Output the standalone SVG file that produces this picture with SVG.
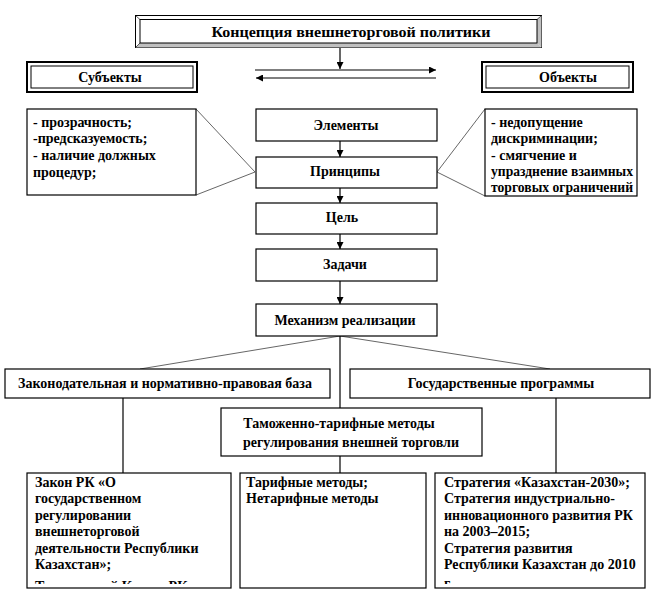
<svg xmlns="http://www.w3.org/2000/svg" width="655" height="600" viewBox="0 0 655 600">
<style>
text{font-family:"Liberation Serif","Times New Roman",serif;font-weight:bold;font-size:14px;fill:#000}
.c{text-anchor:middle}
.box{fill:#fff;stroke:#000;stroke-width:1.2}
.ln{stroke:#000;stroke-width:1.2;fill:none}
.thin{stroke:#555;stroke-width:0.9;fill:none}
</style>
<defs>
<marker id="ah" viewBox="0 0 10 10" refX="10" refY="5" markerWidth="7" markerHeight="7" markerUnits="userSpaceOnUse" orient="auto">
<path d="M0,0 L10,5 L0,10 z" fill="#000"/>
</marker>
<clipPath id="clipL"><rect x="27" y="473" width="204" height="111"/></clipPath>
<clipPath id="clipR"><rect x="435" y="473" width="210" height="111"/></clipPath>
</defs>
<rect width="655" height="600" fill="#fff"/>

<g id="concept">
<rect x="135.5" y="15.5" width="406" height="32" fill="#fff" stroke="#000"/>
<polygon points="135.5,47.5 541.5,47.5 537,43 140,43" fill="#c0c0c0"/>
<polygon points="541.5,15.5 541.5,47.5 537,43 537,19.5" fill="#c0c0c0"/>
<rect x="140" y="19.5" width="397" height="23.5" fill="none" stroke="#000"/>
<line x1="135.5" y1="15.5" x2="140" y2="19.5" stroke="#000" stroke-width="0.6"/>
<line x1="135.5" y1="47.5" x2="140" y2="43" stroke="#000" stroke-width="0.6"/>
<line x1="541.5" y1="15.5" x2="537" y2="19.5" stroke="#000" stroke-width="0.6"/>
<text x="351" y="37" class="c" textLength="279" lengthAdjust="spacingAndGlyphs">Концепция внешнеторговой политики</text>
</g>

<g id="subjects">
<rect x="27" y="62" width="170" height="30" fill="#fff" stroke="#000" stroke-width="2"/>
<rect x="31" y="66" width="162" height="22" fill="none" stroke="#000" stroke-width="1"/>
<text x="110" y="82" class="c">Субъекты</text>
</g>

<g id="objects">
<rect x="482" y="62" width="151" height="30" fill="#fff" stroke="#000" stroke-width="2"/>
<rect x="486" y="66" width="143" height="22" fill="none" stroke="#000" stroke-width="1"/>
<text x="568" y="82" class="c">Объекты</text>
</g>

<g id="connectors">
<line class="ln" x1="340" y1="48" x2="340" y2="69" marker-end="url(#ah)"/>
<line class="ln" x1="255" y1="70" x2="436" y2="70" marker-end="url(#ah)"/>
<line class="ln" x1="436" y1="78" x2="256" y2="78" marker-end="url(#ah)"/>
<line class="ln" x1="340" y1="141" x2="340" y2="157" marker-end="url(#ah)"/>
<line class="ln" x1="340" y1="188" x2="340" y2="203" marker-end="url(#ah)"/>
<line class="ln" x1="340" y1="234" x2="340" y2="249" marker-end="url(#ah)"/>
<line class="ln" x1="340" y1="281" x2="340" y2="304" marker-end="url(#ah)"/>
<line class="thin" x1="196" y1="109" x2="255" y2="172"/>
<line class="thin" x1="196" y1="195" x2="255" y2="172"/>
<line class="thin" x1="437" y1="172" x2="485" y2="109"/>
<line class="thin" x1="437" y1="172" x2="485" y2="196"/>
<line class="thin" x1="340" y1="336" x2="140" y2="369"/>
<line class="thin" x1="340" y1="336" x2="550" y2="369"/>
<line class="ln" x1="340" y1="336" x2="340" y2="408"/>
<line class="ln" x1="340" y1="456" x2="340" y2="473"/>
<line class="ln" x1="123" y1="398" x2="123" y2="473"/>
<line class="ln" x1="556" y1="398" x2="556" y2="473"/>
</g>

<g id="subjects-text">
<rect class="box" x="27" y="109" width="169" height="86"/>
<text x="33" y="127">- прозрачность;</text>
<text x="33" y="143">-предсказуемость;</text>
<text x="33" y="160">- наличие  должных</text>
<text x="33" y="177">процедур;</text>
</g>

<g id="objects-text">
<rect class="box" x="485" y="109" width="152" height="87"/>
<text x="491" y="127">- недопущение</text>
<text x="491" y="143">дискриминации;</text>
<text x="491" y="160">- смягчение и</text>
<text x="491" y="176" textLength="142" lengthAdjust="spacingAndGlyphs">упразднение  взаимных</text>
<text x="491" y="192" textLength="142" lengthAdjust="spacingAndGlyphs">торговых ограничений</text>
</g>

<g id="elements">
<rect class="box" x="256" y="109" width="181" height="32"/>
<text x="346" y="130" class="c">Элементы</text>
</g>
<g id="principles">
<rect class="box" x="256" y="157" width="181" height="31"/>
<text x="345" y="176" class="c">Принципы</text>
</g>
<g id="goal">
<rect class="box" x="256" y="203" width="181" height="31"/>
<text x="342" y="222" class="c">Цель</text>
</g>
<g id="tasks">
<rect class="box" x="256" y="249" width="181" height="32"/>
<text x="345" y="269" class="c">Задачи</text>
</g>
<g id="mechanism">
<rect class="box" x="256" y="304" width="181" height="32"/>
<text x="345" y="325" class="c">Механизм реализации</text>
</g>

<g id="legal-base">
<rect class="box" x="5" y="369" width="325" height="29"/>
<text x="165" y="388" class="c">Законодательная  и нормативно-правовая  база</text>
</g>
<g id="state-programs">
<rect class="box" x="350" y="369" width="300" height="29"/>
<text x="501" y="388" class="c">Государственные  программы</text>
</g>
<g id="customs">
<rect class="box" x="221" y="408" width="261" height="48"/>
<text x="339" y="428" class="c">Таможенно-тарифные методы</text>
<text x="351" y="447" class="c">регулирования внешней торговли</text>
</g>

<g id="laws">
<rect class="box" x="27" y="473" width="204" height="115"/>
<g clip-path="url(#clipL)">
<text x="35" y="487">Закон РК «О</text>
<text x="35" y="503">государственном</text>
<text x="35" y="520">регулировании</text>
<text x="35" y="536">внешнеторговой</text>
<text x="35" y="553">деятельности Республики</text>
<text x="35" y="569">Казахстан»;</text>
<text x="35" y="591">Таможенный Кодекс РК</text>
</g>
</g>
<g id="methods">
<rect class="box" x="240" y="473" width="186" height="115"/>
<text x="246" y="487">Тарифные методы;</text>
<text x="246" y="503">Нетарифные методы</text>
</g>
<g id="strategies">
<rect class="box" x="435" y="473" width="210" height="115"/>
<g clip-path="url(#clipR)">
<text x="444" y="487">Стратегия «Казахстан-2030»;</text>
<text x="444" y="503">Стратегия индустриально-</text>
<text x="444" y="520">инновационного  развития РК</text>
<text x="444" y="536">на 2003–2015;</text>
<text x="444" y="553">Стратегия развития</text>
<text x="444" y="569">Республики Казахстан до 2010</text>
<text x="444" y="588">г.</text>
</g>
</g>
</svg>
